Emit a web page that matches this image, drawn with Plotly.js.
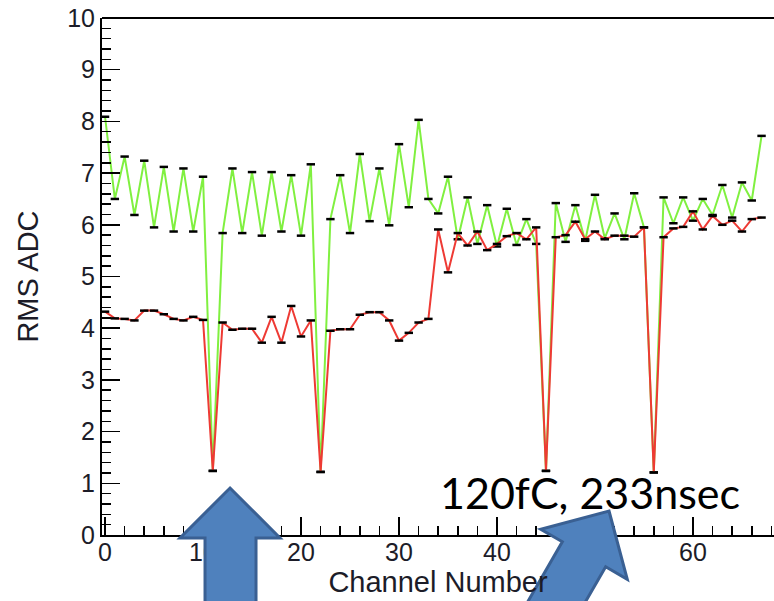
<!DOCTYPE html>
<html>
<head>
<meta charset="utf-8">
<script src="https://cdn.plot.ly/plotly-3.0.1.min.js"></script>
<style>html,body{margin:0;padding:0;background:#fff;}#chart{width:774px;height:601px;}</style>
</head>
<body>
<div id="chart"></div>
<script>
// Channel numbers
const channels = [0,1,2,3,4,5,6,7,8,9,10,11,12,13,14,15,16,17,18,19,20,21,22,23,24,25,26,27,28,29,30,31,32,33,34,35,36,37,38,39,40,41,42,43,44,45,46,47,48,49,50,51,52,53,54,55,56,57,58,59,60,61,62,63,64,65,66,67];

// Green series (RMS ADC)
const greenRms = [8.09,6.50,7.32,6.19,7.24,5.95,7.12,5.87,7.09,5.87,6.93,1.24,5.84,7.09,5.84,7.02,5.79,7.02,5.87,6.96,5.79,7.17,1.22,6.11,6.96,5.84,7.37,6.07,7.09,5.99,7.56,6.34,8.03,6.50,6.22,6.93,5.72,6.53,5.63,6.38,5.58,6.31,5.61,6.11,5.63,1.24,6.42,5.67,6.38,5.69,6.58,5.74,6.22,5.72,6.61,5.95,1.21,6.53,6.03,6.53,6.08,6.50,6.19,6.77,6.14,6.82,6.47,7.72];

// Red series (RMS ADC)
const redRms = [4.32,4.19,4.18,4.15,4.34,4.34,4.27,4.18,4.15,4.22,4.16,1.24,4.11,3.97,3.99,3.99,3.72,4.22,3.72,4.43,3.84,4.15,1.22,3.95,3.98,3.98,4.26,4.31,4.31,4.15,3.76,3.91,4.11,4.18,5.91,5.08,5.84,5.60,5.87,5.51,5.63,5.78,5.84,5.72,5.95,1.24,5.76,5.80,6.06,5.72,5.87,5.72,5.79,5.79,5.77,5.95,1.21,5.76,5.93,5.96,6.26,5.91,6.17,6.00,6.08,5.87,6.11,6.14];

const xTitle = 'Channel Number';
const yTitle = 'RMS ADC';
const noteText = '120fC, 233nsec';

// layout geometry (pixels)
const W = 774, H = 601;
const M = {l: 102, r: 0, t: 18, b: 66};
const PW = W - M.l - M.r, PH = H - M.t - M.b;
function px(x){ return (x - M.l) / PW; }
function py(y){ return (M.t + PH - y) / PH; }
function pathFrom(pts){
  return 'M' + pts.map(p => px(p[0]).toFixed(4) + ',' + py(p[1]).toFixed(4)).join(' L') + ' Z';
}

// Arrow 1 (vertical)
const arrow1 = [[230,488],[280,538],[256,538],[256,620],[205,620],[205,538],[180,538]];
// Arrow 2 (tilted)
function tiltedArrow(tx, ty, deg){
  const r = deg * Math.PI / 180, s = Math.sin(r), c = Math.cos(r);
  const d = [s, -c], n = [c, s];
  const L = 50, Wd = 50, sh = 25, len = 120;
  const B = [tx - L*d[0], ty - L*d[1]];
  const pt = (b, k, m) => [b[0] + k*n[0] - m*d[0], b[1] + k*n[1] - m*d[1]];
  return [[tx,ty], pt(B, Wd, 0), pt(B, sh, 0), pt(B, sh, len), pt(B, -sh, len), pt(B, -sh, 0), pt(B, -Wd, 0)];
}
const arrow2 = tiltedArrow(609, 511, 30);

const tickFont = {family: 'Liberation Sans, Arial, Helvetica, sans-serif', size: 25, color: '#1c1c28'};

const traces = [
  {x: channels, y: greenRms, type: 'scatter', mode: 'lines+markers',
   line: {color: '#80f040', width: 2},
   marker: {symbol: 'line-ew', size: 6, color: 'black', line: {color: 'black', width: 2.5}},
   showlegend: false, hoverinfo: 'x+y'},
  {x: channels, y: redRms, type: 'scatter', mode: 'lines+markers',
   line: {color: '#ee3a34', width: 2},
   marker: {symbol: 'line-ew', size: 6, color: 'black', line: {color: 'black', width: 2.5}},
   showlegend: false, hoverinfo: 'x+y'}
];

const layout = {
  width: W, height: H,
  margin: M,
  paper_bgcolor: 'white', plot_bgcolor: 'white',
  showlegend: false,
  xaxis: {
    range: [-0.31, 68.27], showgrid: false, zeroline: false,
    showline: true, linecolor: 'black', linewidth: 2,
    ticks: 'inside', ticklen: 18, tickwidth: 1.5, tickcolor: 'black',
    tick0: 0, dtick: 10,
    minor: {ticks: 'inside', ticklen: 9, tickwidth: 1.5, tickcolor: 'black', dtick: 2, showgrid: false},
    tickfont: tickFont,
    ticklabelstandoff: -6,
    title: {text: xTitle, font: {family: 'Liberation Sans, Arial, sans-serif', size: 29, color: '#1c1c28'}, standoff: 6},
    automargin: false
  },
  yaxis: {
    range: [0, 10], showgrid: false, zeroline: false,
    showline: true, linecolor: 'black', linewidth: 2,
    ticks: 'inside', ticklen: 18, tickwidth: 1.5, tickcolor: 'black',
    tick0: 0, dtick: 1,
    minor: {ticks: 'inside', ticklen: 9, tickwidth: 1.5, tickcolor: 'black', dtick: 0.2, showgrid: false},
    tickfont: tickFont,
    title: {text: yTitle, font: {family: 'Liberation Sans, Arial, sans-serif', size: 29, color: '#1c1c28'}, standoff: 20},
    automargin: false
  },
  shapes: [
    {type: 'line', xref: 'paper', yref: 'paper', x0: 0, x1: 1, y0: 1, y1: 1, line: {color: 'black', width: 2}},
    {type: 'path', xref: 'paper', yref: 'paper', path: pathFrom(arrow1), fillcolor: '#4f81bd', line: {color: '#3a6093', width: 3}, layer: 'above'},
    {type: 'path', xref: 'paper', yref: 'paper', path: pathFrom(arrow2), fillcolor: '#4f81bd', line: {color: '#3a6093', width: 3}, layer: 'above'}
  ],
  annotations: [
    {text: noteText, xref: 'paper', yref: 'paper', x: px(438), y: py(492), xanchor: 'left', yanchor: 'middle',
     showarrow: false, font: {family: 'Lato, Open Sans, sans-serif', size: 43, color: 'black'}}
  ]
};

Plotly.newPlot('chart', traces, layout, {staticPlot: true, displayModeBar: false});
</script>
</body>
</html>
